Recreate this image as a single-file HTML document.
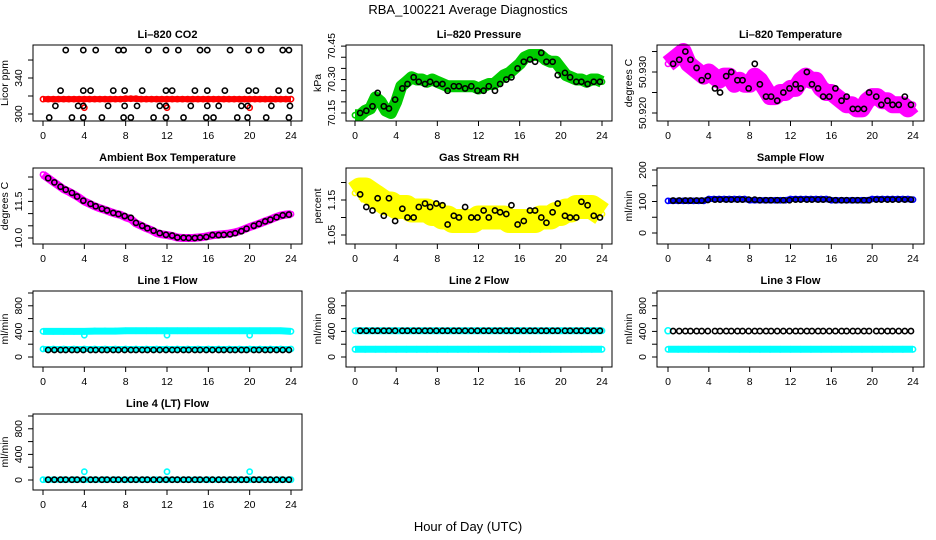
<!DOCTYPE html>
<html><head><meta charset="utf-8"><style>
body{margin:0;background:#fff}
svg{display:block;font-family:"Liberation Sans",sans-serif}
</style></head><body>
<svg id="c" width="936" height="540" viewBox="0 0 936 540">
<rect width="936" height="540" fill="#fff"/>
<text x="468" y="14" text-anchor="middle" font-size="13">RBA_100221  Average Diagnostics</text>
<text x="468" y="531" text-anchor="middle" font-size="13">Hour of Day (UTC)</text>
</svg>
<script>
const hours49=[0,0.5,1,1.5,2,2.5,3,3.5,4,4.5,5,5.5,6,6.5,7,7.5,8,8.5,9,9.5,10,10.5,11,11.5,12,12.5,13,13.5,14,14.5,15,15.5,16,16.5,17,17.5,18,18.5,19,19.5,20,20.5,21,21.5,22,22.5,23,23.5,24];
const hours25=[0,1,2,3,4,5,6,7,8,9,10,11,12,13,14,15,16,17,18,19,20,21,22,23,24];
const blackHours=[0.5,1.1,1.7,2.2,2.8,3.3,3.9,4.6,5.1,5.7,6.2,6.8,7.3,7.9,8.5,9.0,9.6,10.1,10.7,11.3,11.9,12.5,13.0,13.6,14.1,14.7,15.2,15.8,16.4,17.0,17.5,18.1,18.6,19.2,19.7,20.4,20.9,21.5,22.0,22.6,23.2,23.8];
const xTicks=[0,4,8,12,16,20,24];

const co2Red=[316.5,316.5,316.5,316.5,316.5,316.5,316.5,316.5,316.5,316.5,316.5,316.5,316.5,316.5,316.5,316.5,317,317,317,316.5,316.5,316.5,316.5,316.5,316.5,316.5,316.5,316.5,316.5,316.5,316.5,316.5,316.5,316.5,316.5,316.5,316.5,316.5,316.5,316.5,316.5,316.5,316.5,316.5,316.5,316.5,316.5,316.5,316.5];
const co2BlackHours=[2.2,3.9,5.1,7.3,7.8,10.2,11.9,13.1,15.2,15.9,18.1,19.9,21.1,23.2,23.8,1.7,3.9,4.6,6.8,7.9,9.6,11.9,12.5,14.7,15.9,17.6,19.9,20.6,22.8,23.9,1.2,3.4,3.9,6.3,7.9,9.1,11.3,11.9,14.3,15.9,17.0,19.2,19.8,22.1,23.9,0.6,2.8,3.9,5.7,7.8,8.5,10.7,11.9,13.6,15.8,16.5,18.8,19.8,21.6,23.8];
const co2Black=[371,371,371,371,371,371,371,371,371,371,371,371,371,371,371,326,326,326,326,326,326,326,326,326,326,326,326,326,326,326,309,309,309,309,309,309,309,309,309,309,309,309,309,309,309,296,296,296,296,296,296,296,296,296,296,296,296,296,296,296];
const co2OutHours=[4,12,20];
const co2Out=[307,307,307];

const presGreen=[70.14,70.14,70.16,70.17,70.22,70.20,70.16,70.15,70.20,70.27,70.29,70.31,70.30,70.30,70.29,70.30,70.29,70.28,70.27,70.27,70.27,70.27,70.27,70.27,70.26,70.27,70.28,70.28,70.30,70.32,70.33,70.35,70.37,70.40,70.41,70.41,70.41,70.39,70.38,70.38,70.35,70.32,70.31,70.30,70.30,70.29,70.30,70.30,70.29];
const presBlack=[70.15,70.16,70.18,70.24,70.18,70.17,70.21,70.26,70.28,70.31,70.29,70.28,70.29,70.28,70.28,70.25,70.27,70.27,70.26,70.27,70.25,70.25,70.27,70.25,70.28,70.30,70.31,70.35,70.38,70.39,70.38,70.42,70.38,70.38,70.32,70.33,70.31,70.29,70.29,70.28,70.29,70.29];

const tempMag=[50.932,50.933,50.934,50.935,50.932,50.931,50.930,50.929,50.930,50.929,50.928,50.929,50.929,50.927,50.928,50.927,50.927,50.929,50.928,50.926,50.924,50.924,50.925,50.925,50.926,50.926,50.928,50.929,50.928,50.928,50.926,50.925,50.925,50.924,50.923,50.922,50.922,50.921,50.921,50.923,50.924,50.924,50.923,50.923,50.922,50.922,50.922,50.921,50.922];
const tempBlack=[50.932,50.933,50.935,50.933,50.931,50.928,50.929,50.926,50.925,50.929,50.930,50.928,50.928,50.926,50.932,50.927,50.924,50.924,50.923,50.925,50.926,50.927,50.926,50.930,50.927,50.926,50.924,50.924,50.926,50.923,50.924,50.921,50.921,50.921,50.925,50.924,50.922,50.923,50.922,50.922,50.924,50.922];

const ambMag=[12.6,12.45,12.3,12.15,12.0,11.9,11.78,11.65,11.5,11.4,11.3,11.22,11.15,11.07,11.0,10.95,10.85,10.78,10.6,10.5,10.4,10.32,10.2,10.15,10.12,10.08,10.02,10.0,10.0,10.0,10.02,10.04,10.08,10.12,10.14,10.16,10.18,10.22,10.28,10.36,10.45,10.52,10.6,10.68,10.76,10.85,10.92,10.96,10.98];
const ambBlack=[12.45,12.28,12.1,11.98,11.85,11.7,11.53,11.4,11.3,11.2,11.13,11.03,10.98,10.9,10.83,10.62,10.5,10.4,10.3,10.2,10.13,10.1,10.02,10.01,10.0,10.0,10.02,10.04,10.12,10.12,10.13,10.15,10.2,10.28,10.38,10.5,10.58,10.68,10.75,10.85,10.93,10.96];

const rhYellow=[1.17,1.18,1.18,1.17,1.16,1.15,1.14,1.14,1.13,1.13,1.13,1.12,1.12,1.12,1.12,1.11,1.11,1.10,1.10,1.09,1.09,1.09,1.09,1.09,1.10,1.10,1.10,1.10,1.10,1.10,1.09,1.09,1.09,1.09,1.09,1.09,1.10,1.10,1.10,1.11,1.11,1.12,1.12,1.13,1.13,1.13,1.13,1.12,1.11];
const rhBlack=[1.166,1.13,1.12,1.155,1.105,1.155,1.09,1.125,1.10,1.10,1.13,1.14,1.13,1.14,1.135,1.08,1.105,1.10,1.13,1.10,1.10,1.12,1.10,1.12,1.115,1.11,1.135,1.08,1.09,1.12,1.12,1.10,1.085,1.115,1.14,1.105,1.10,1.10,1.145,1.135,1.105,1.10];

const flowBlue=[102,102,102,102,102,102,102,102,108,108,108,108,108,108,108,108,104,104,104,104,104,104,104,104,108,108,108,108,108,108,108,108,104,104,104,104,104,104,104,104,108,108,108,108,108,108,108,108,106];
const flowBlack=[103,103,103,103,103,103,105,106,106,106,106,106,106,106,106,104,104,104,104,104,104,106,106,106,106,106,106,106,104,104,104,104,104,104,104,106,106,106,106,106,106,106];

const line1CyanHi=[400,400,400,400,400,405,405,405,410,410,410,410,410,410,410,410,410,410,410,410,410,410,410,410,400];
const line1CyanLo=[125,125,125,125,125,125,125,125,125,125,125,125,125,125,125,125,125,125,125,125,125,125,125,125,125];
const line1Black=[110,110,110,110,110,110,110,110,110,110,110,110,110,110,110,110,110,110,110,110,110,110,110,110,110,110,110,110,110,110,110,110,110,110,110,110,110,110,110,110,110,110];
const line1OutHours=[4,12,20];
const line1Out=[340,340,340];

const line2CyanHi=[410,410,410,410,410,410,410,410,410,410,410,410,410,410,410,410,410,410,410,410,410,410,410,410,410];
const line2CyanLo=[120,120,120,120,120,120,120,120,120,120,120,120,120,120,120,120,120,120,120,120,120,120,120,120,120];
const line2Black=[410,410,410,410,410,410,410,410,410,410,410,410,410,410,410,410,410,410,410,410,410,410,410,410,410,410,410,410,410,410,410,410,410,410,410,410,410,410,410,410,410,410];

const line3CyanHi=[410];
const line3CyanLo=[120,120,120,120,120,120,120,120,120,120,120,120,120,120,120,120,120,120,120,120,120,120,120,120,120];
const line3Black=[405,405,405,405,405,405,405,405,405,405,405,405,405,405,405,405,405,405,405,405,405,405,405,405,405,405,405,405,405,405,405,405,405,405,405,405,405,405,405,405,405,405];

const line4Cyan=[5,5,5,5,5,5,5,5,5,5,5,5,5,5,5,5,5,5,5,5,5,5,5,5,5];
const line4Black=[5,5,5,5,5,5,5,5,5,5,5,5,5,5,5,5,5,5,5,5,5,5,5,5,5,5,5,5,5,5,5,5,5,5,5,5,5,5,5,5,5,5];
const line4OutHours=[4,12,20];
const line4Out=[130,130,130];

const NS="http://www.w3.org/2000/svg";
const svg=document.getElementById('c');
const COLS=[[33,302,43,291],[346,612,355,602],[657,924,668,913]];
const ROWS=[[45,121],[168,244],[291,367],[414,490]];

function mk(tag,attrs,parent){const e=document.createElementNS(NS,tag);for(const k in attrs)e.setAttribute(k,attrs[k]);(parent||svg).appendChild(e);return e;}

function panel(p){
  const [L,R,X0,X24]=COLS[p.col];const [T,B]=ROWS[p.row];
  const g=mk('g',{});
  
  
  const xs=h=>X0+h/24*(X24-X0);
  const ys=v=>B-(v-p.ymin)/(p.ymax-p.ymin)*(B-T);
  const t=mk('text',{x:(L+R)/2,y:T-7,'text-anchor':'middle','font-size':11,'font-weight':'bold'},g);
  t.textContent=p.title;
  
  
  const xa=mk('g',{stroke:'#000','stroke-width':1},g);
  
  
  mk('line',{x1:xs(0),x2:xs(24),y1:B,y2:B},xa);
  xTicks.forEach(h=>{
    mk('line',{x1:xs(h),x2:xs(h),y1:B,y2:B+5},xa);
    const tx=mk('text',{x:xs(h),y:B+18,'text-anchor':'middle','font-size':10.5,stroke:'none'},xa);
    tx.textContent=h;
  });
  const ya=mk('g',{stroke:'#000','stroke-width':1},g);
  
  
  mk('line',{x1:L,x2:L,y1:ys(p.ticks[0]),y2:ys(p.ticks[p.ticks.length-1])},ya);
  p.ticks.forEach(v=>{mk('line',{x1:L,x2:L-5,y1:ys(v),y2:ys(v)},ya);});
  p.labels.forEach(v=>{
    const y=ys(v);
    const tx=mk('text',{x:L-11,y:y,'text-anchor':'middle','font-size':10.5,stroke:'none',transform:`rotate(-90 ${L-11} ${y})`},ya);
    tx.textContent=p.fmt?p.fmt(v):v;
  });
  const yl=mk('text',{x:L-25,y:(T+B)/2,'text-anchor':'middle','font-size':10.5,transform:`rotate(-90 ${L-25} ${(T+B)/2})`},g);
  yl.textContent=p.ylab;
  
  
  const clip='clip'+p.name;
  const cp=mk('clipPath',{id:clip},g);mk('rect',{x:L,y:T-3,width:R-L,height:B-T+6},cp);
  const dg=mk('g',{'clip-path':`url(#${clip})`},g);
  p.series.forEach(s=>{
    const sg=mk('g',{},dg);
    
    
    if(s.band){
      const pts=s.h.map((h,i)=>xs(h).toFixed(1)+','+ys(s.v[i]).toFixed(1)).join(' ');
      const pl=mk('polyline',{points:pts,fill:'none',stroke:s.color,'stroke-width':s.band,'stroke-linecap':'butt','stroke-linejoin':'round'},sg);
      
      
    }
    s.h.forEach((h,i)=>{
      const c=mk('circle',{cx:xs(h),cy:ys(s.v[i]),r:s.r||2.6,fill:s.fill||'none',stroke:s.color,'stroke-width':s.sw||1.6},sg);
      
      
    });
  });
  const fr=mk('rect',{x:L,y:T,width:R-L,height:B-T,fill:'none',stroke:'#000','stroke-width':1},g);
  
  
}
panel({name:'co2',title:'Li\u2013820 CO2',ylab:'Licor ppm',col:0,row:0,ymin:292.2,ymax:376.7,ticks:[300,320,340,360],labels:[300,340],
  series:[{name:'co2-average',h:hours49,v:co2Red,color:'#f00',band:6},
          {name:'co2-outliers',h:co2OutHours,v:co2Out,color:'#f00'},
          {name:'co2-hourly',h:co2BlackHours,v:co2Black,color:'#000'}]});
panel({name:'pressure',title:'Li\u2013820 Pressure',ylab:'kPa',col:1,row:0,ymin:70.114,ymax:70.455,ticks:[70.15,70.2,70.25,70.3,70.35,70.4,70.45],labels:[70.15,70.3,70.45],fmt:v=>v.toFixed(2),
  series:[{name:'pressure-average',h:hours49,v:presGreen,color:'#0c0',band:12},
          {name:'pressure-hourly',h:blackHours,v:presBlack,color:'#000'}]});
panel({name:'temperature',title:'Li\u2013820 Temperature',ylab:'degrees C',col:2,row:0,ymin:50.91805,ymax:50.93659,ticks:[50.92,50.925,50.93,50.935],labels:[50.92,50.93],fmt:v=>v.toFixed(3),
  series:[{name:'temperature-average',h:hours49,v:tempMag,color:'#f0f',band:17},
          {name:'temperature-hourly',h:blackHours,v:tempBlack,color:'#000'}]});
panel({name:'ambient',title:'Ambient Box Temperature',ylab:'degrees C',col:0,row:1,ymin:9.754,ymax:12.869,ticks:[10,10.5,11,11.5,12,12.5],labels:[10,11.5],fmt:v=>v.toFixed(1),
  series:[{name:'ambient-average',h:hours49,v:ambMag,color:'#f0f',band:8},
          {name:'ambient-hourly',h:blackHours,v:ambBlack,color:'#000'}]});
panel({name:'rh',title:'Gas Stream RH',ylab:'percent',col:1,row:1,ymin:1.0243,ymax:1.2414,ticks:[1.05,1.1,1.15,1.2],labels:[1.05,1.15],fmt:v=>v.toFixed(2),
  series:[{name:'rh-average',h:hours49,v:rhYellow,color:'#ff0',band:24},
          {name:'rh-hourly',h:blackHours,v:rhBlack,color:'#000'}]});
panel({name:'sample-flow',title:'Sample Flow',ylab:'ml/min',col:2,row:1,ymin:-34.9,ymax:206.3,ticks:[0,50,100,150,200],labels:[0,100,200],
  series:[{name:'sample-flow-average',h:hours49,v:flowBlue,color:'#00f',band:6},
          {name:'sample-flow-hourly',h:blackHours,v:flowBlack,color:'#000'}]});
panel({name:'line1',title:'Line 1 Flow',ylab:'ml/min',col:0,row:2,ymin:-156,ymax:1031,ticks:[0,200,400,600,800,1000],labels:[0,400,800],
  series:[{name:'line1-high',h:hours25,v:line1CyanHi,color:'#0ff',band:7},
          {name:'line1-low',h:hours25,v:line1CyanLo,color:'#0ff',band:6},
          {name:'line1-outliers',h:line1OutHours,v:line1Out,color:'#0ff'},
          {name:'line1-hourly',h:blackHours,v:line1Black,color:'#000'}]});
panel({name:'line2',title:'Line 2 Flow',ylab:'ml/min',col:1,row:2,ymin:-156,ymax:1031,ticks:[0,200,400,600,800,1000],labels:[0,400,800],
  series:[{name:'line2-high',h:hours25,v:line2CyanHi,color:'#0ff',band:7},
          {name:'line2-low',h:hours25,v:line2CyanLo,color:'#0ff',band:7},
          {name:'line2-hourly',h:blackHours,v:line2Black,color:'#000'}]});
panel({name:'line3',title:'Line 3 Flow',ylab:'ml/min',col:2,row:2,ymin:-156,ymax:1031,ticks:[0,200,400,600,800,1000],labels:[0,400,800],
  series:[{name:'line3-start',h:[0],v:line3CyanHi,color:'#0ff',r:3},
          {name:'line3-low',h:hours25,v:line3CyanLo,color:'#0ff',band:7},
          {name:'line3-hourly',h:blackHours,v:line3Black,color:'#000'}]});
panel({name:'line4',title:'Line 4 (LT) Flow',ylab:'ml/min',col:0,row:3,ymin:-156,ymax:1031,ticks:[0,200,400,600,800,1000],labels:[0,400,800],
  series:[{name:'line4-average',h:hours25,v:line4Cyan,color:'#0ff',band:6},
          {name:'line4-outliers',h:line4OutHours,v:line4Out,color:'#0ff'},
          {name:'line4-hourly',h:blackHours,v:line4Black,color:'#000'}]});
</script>
</body></html>
